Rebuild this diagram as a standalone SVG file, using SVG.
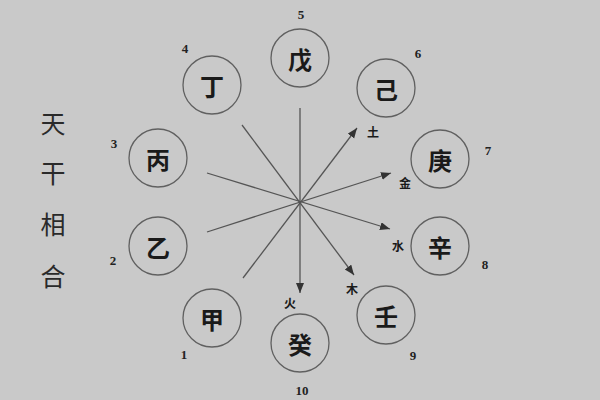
<svg xmlns="http://www.w3.org/2000/svg" width="600" height="400" viewBox="0 0 600 400">
<style>
.bg{fill:#c9c9c9}
.node circle{fill:none;stroke:#606060;stroke-width:1.3}
.node text{font-family:"Noto Sans CJK SC","Noto Sans CJK JP",sans-serif;font-size:24px;font-weight:700;fill:#1a1a1a;text-anchor:middle;dominant-baseline:central}
.num{font-family:"Liberation Serif",serif;font-size:13px;font-weight:700;fill:#222;text-anchor:middle;dominant-baseline:central}
.el{font-family:"Noto Sans CJK SC","Noto Sans CJK JP",sans-serif;font-size:12px;font-weight:700;fill:#1a1a1a;text-anchor:middle;dominant-baseline:central}
.title{font-family:"Noto Sans CJK SC","Noto Sans CJK JP",sans-serif;font-size:25px;fill:#2a2a2a;text-anchor:middle;dominant-baseline:central}
.conn line{stroke:#555;stroke-width:1.3}
</style>
<defs>
<marker id="arr" markerUnits="userSpaceOnUse" markerWidth="12" markerHeight="10" refX="10" refY="4" orient="auto">
<path d="M0,0 L10,4 L0,8 Z" fill="#333"/>
</marker>
</defs>
<rect class="bg" x="0" y="0" width="600" height="400"/>
<g id="title">
<text class="title" x="53" y="122">天</text>
<text class="title" x="53" y="172">干</text>
<text class="title" x="53" y="223">相</text>
<text class="title" x="53" y="275">合</text>
</g>
<g id="connectors" class="conn">
<line x1="243" y1="278" x2="357" y2="128" marker-end="url(#arr)"/>
<line x1="207" y1="232" x2="391" y2="173" marker-end="url(#arr)"/>
<line x1="207" y1="173" x2="390" y2="229" marker-end="url(#arr)"/>
<line x1="242" y1="125" x2="354" y2="275" marker-end="url(#arr)"/>
<line x1="300" y1="108" x2="300" y2="293" marker-end="url(#arr)"/>
</g>
<g id="jia" class="node"><circle cx="212" cy="318" r="29"/><text x="212" y="318">甲</text></g>
<g id="yi" class="node"><circle cx="158" cy="246" r="29"/><text x="158" y="246">乙</text></g>
<g id="bing" class="node"><circle cx="158" cy="158" r="29"/><text x="158" y="158">丙</text></g>
<g id="ding" class="node"><circle cx="212" cy="85" r="29"/><text x="212" y="85">丁</text></g>
<g id="wu" class="node"><circle cx="300" cy="58" r="29"/><text x="300" y="58">戊</text></g>
<g id="ji" class="node"><circle cx="386" cy="88" r="29"/><text x="386" y="88">己</text></g>
<g id="geng" class="node"><circle cx="440" cy="159" r="29"/><text x="440" y="159">庚</text></g>
<g id="xin" class="node"><circle cx="440" cy="246" r="29"/><text x="440" y="246">辛</text></g>
<g id="ren" class="node"><circle cx="386" cy="315" r="29"/><text x="386" y="315">壬</text></g>
<g id="gui" class="node"><circle cx="300" cy="343" r="29"/><text x="300" y="343">癸</text></g>
<g id="numbers">
<text class="num" x="184" y="354">1</text>
<text class="num" x="113" y="260">2</text>
<text class="num" x="114" y="143">3</text>
<text class="num" x="185" y="48">4</text>
<text class="num" x="301" y="14">5</text>
<text class="num" x="418" y="53">6</text>
<text class="num" x="488" y="150">7</text>
<text class="num" x="485" y="264">8</text>
<text class="num" x="413" y="355">9</text>
<text class="num" x="302" y="390">10</text>
</g>
<g id="elements">
<text class="el" x="373" y="131">土</text>
<text class="el" x="405" y="182">金</text>
<text class="el" x="398" y="245">水</text>
<text class="el" x="352" y="288">木</text>
<text class="el" x="290" y="302">火</text>
</g>
</svg>
